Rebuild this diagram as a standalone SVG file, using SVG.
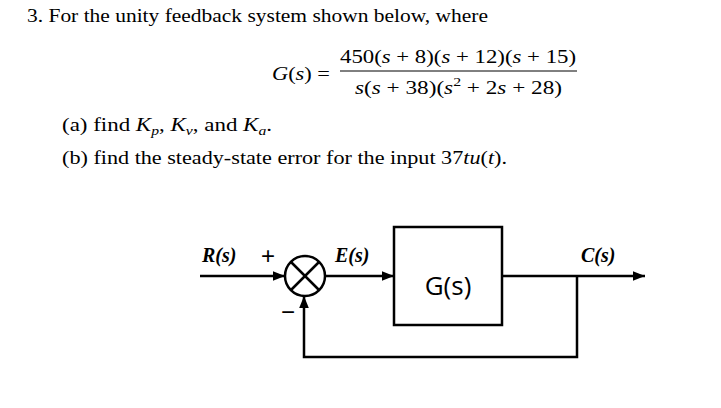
<svg xmlns="http://www.w3.org/2000/svg" width="721" height="408" viewBox="0 0 721 408">
<style>
.t{font-family:"Liberation Serif",serif;font-size:19px;fill:#000}
.i{font-style:italic}
.l{stroke:#000;stroke-width:2.5;fill:none}
.lb{font-family:"Liberation Serif",serif;font-style:italic;font-weight:bold;font-size:20px}
.s{font-family:"Liberation Sans",sans-serif;font-size:24px}
</style>
<defs><marker id="ar" viewBox="0 0 10 10" refX="10" refY="5" markerWidth="14" markerHeight="12" orient="auto" markerUnits="userSpaceOnUse"><path d="M0,1L10,5L0,9z"/></marker></defs>
<rect width="721" height="408" fill="#fff"/>
<text class="t" x="27" y="22" textLength="461" lengthAdjust="spacingAndGlyphs">3.  For the unity feedback system shown below, where</text>
<text class="t" x="272" y="80" textLength="58" lengthAdjust="spacingAndGlyphs"><tspan class="i">G</tspan>(<tspan class="i">s</tspan>) =</text>
<text class="t" x="340" y="63" textLength="236" lengthAdjust="spacingAndGlyphs">450(<tspan class="i">s</tspan> + 8)(<tspan class="i">s</tspan> + 12)(<tspan class="i">s</tspan> + 15)</text>
<line x1="340" y1="71" x2="577" y2="71" stroke="#000" stroke-width="1"/>
<text class="t" x="355" y="94" textLength="207" lengthAdjust="spacingAndGlyphs"><tspan class="i">s</tspan>(<tspan class="i">s</tspan> + 38)(<tspan class="i">s</tspan><tspan font-size="13" dy="-8">2</tspan><tspan dy="8"> + 2</tspan><tspan class="i">s</tspan> + 28)</text>
<text class="t" x="62" y="131" textLength="210" lengthAdjust="spacingAndGlyphs">(a)  find <tspan class="i">K</tspan><tspan class="i" font-size="13" dy="4">p</tspan><tspan dy="-4">, </tspan><tspan class="i">K</tspan><tspan class="i" font-size="13" dy="4">v</tspan><tspan dy="-4">, and </tspan><tspan class="i">K</tspan><tspan class="i" font-size="13" dy="4">a</tspan><tspan dy="-4">.</tspan></text>
<text class="t" x="62" y="164" textLength="445" lengthAdjust="spacingAndGlyphs">(b)  find the steady-state error for the input 37<tspan class="i">tu</tspan>(<tspan class="i">t</tspan>).</text>
<g id="sum"><circle cx="305" cy="276" r="20" class="l"/><line x1="291" y1="262" x2="319" y2="290" class="l"/><line x1="319" y1="262" x2="291" y2="290" class="l"/></g>
<g id="G"><rect x="394" y="227" width="108" height="98" class="l"/><text x="448" y="295" text-anchor="middle" font-family="'Open Sans',sans-serif" font-size="26">G(s)</text></g>
<g id="connectors">
<line x1="200" y1="276" x2="285" y2="276" class="l" marker-end="url(#ar)"/>
<line x1="325" y1="276" x2="394" y2="276" class="l" marker-end="url(#ar)"/>
<line x1="502" y1="276" x2="645" y2="276" class="l" marker-end="url(#ar)"/>
<polyline points="577,276 577,357 304,357 304,296" class="l" marker-end="url(#ar)"/>
</g>
<g id="labels">
<text class="lb" x="202" y="262">R(s)</text>
<text class="s" x="261" y="264">+</text>
<text class="s" x="281" y="320">−</text>
<text class="lb" x="335" y="262">E(s)</text>
<text class="lb" x="581" y="262">C(s)</text>
</g>
</svg>
